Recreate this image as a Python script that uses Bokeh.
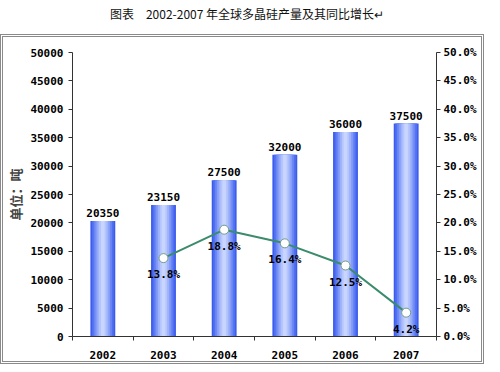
from bokeh.plotting import figure
from bokeh.models import (Range1d, LinearAxis, FixedTicker, ColumnDataSource, LabelSet,
                          Div, PrintfTickFormatter)
from bokeh.layouts import column
from bokeh.embed import file_html
from bokeh.resources import INLINE
from bokeh.core.properties import value

# ---- data ----
years = ["2002", "2003", "2004", "2005", "2006", "2007"]
output = [20350, 23150, 27500, 32000, 36000, 37500]
growth = [None, 13.8, 18.8, 16.4, 12.5, 4.2]
left_ticks = [0, 5000, 10000, 15000, 20000, 25000, 30000, 35000, 40000, 45000, 50000]
right_ticks = [0, 5, 10, 15, 20, 25, 30, 35, 40, 45, 50]
title_text = "图表　2002-2007 年全球多晶硅产量及其同比增长↵"
y_label = "单位：吨"

NUMFONT = "DejaVu Sans Mono"
CJK = "Noto Sans CJK SC"

xs = [i + 0.5 for i in range(len(years))]
bar_src = ColumnDataSource(dict(x=xs, top=output, lab=[str(v) for v in output]))
gx = [x for x, g in zip(xs, growth) if g is not None]
gy = [g for g in growth if g is not None]
g_src = ColumnDataSource(dict(x=gx, y=gy, lab=["%.1f%%" % g for g in gy]))

p = figure(width=478, height=324, output_backend="svg", toolbar_location=None,
           x_range=Range1d(0, len(years)), y_range=Range1d(0, 50000),
           min_border_left=63, min_border_right=45, min_border_top=15, min_border_bottom=21)
p.extra_y_ranges = {"pct": Range1d(0, 50)}
p.grid.visible = False
p.outline_line_color = None
p.background_fill_color = "white"

# gradient-looking bars (layered)
layers = [(0.41, "#3a5bee"), (0.36, "#5070f1"), (0.30, "#6a86f4"), (0.24, "#859df7"),
          (0.18, "#9fb3fa"), (0.12, "#b6c6fc"), (0.06, "#c8d5fe")]
for w, c in layers:
    p.vbar(x="x", top="top", width=w, bottom=0, source=bar_src, fill_color=c, line_color=None)

p.add_layout(LabelSet(x="x", y="top", text="lab", source=bar_src, y_offset=4,
                      text_align="center", text_baseline="bottom",
                      text_font=value(NUMFONT), text_font_style="bold",
                      text_font_size="11px", text_color="black"))

# growth line
p.line("x", "y", source=g_src, y_range_name="pct", line_color="#3a8c6c", line_width=2)
p.scatter("x", "y", source=g_src, y_range_name="pct", size=9, fill_color="white",
          line_color="#6f9a8a", line_width=1)
p.add_layout(LabelSet(x="x", y="y", text="lab", source=g_src, y_range_name="pct",
                      y_offset=-10, text_align="center", text_baseline="top",
                      text_font=value(NUMFONT), text_font_style="bold",
                      text_font_size="11px", text_color="black"))

# axes
xa = p.xaxis[0]
xa.ticker = FixedTicker(ticks=xs, minor_ticks=list(range(len(years) + 1)))
xa.major_label_overrides = {x: y for x, y in zip(xs, years)}
xa.major_tick_out = 0
xa.major_tick_in = 0
xa.minor_tick_out = 4
xa.minor_tick_in = 0
xa.major_label_standoff = 10
xa.axis_line_color = "#333333"
xa.minor_tick_line_color = "#333333"
xa.major_label_text_font = NUMFONT
xa.major_label_text_font_style = "bold"
xa.major_label_text_font_size = "11px"
xa.major_label_text_color = "black"

ya = p.yaxis[0]
ya.ticker = FixedTicker(ticks=left_ticks)
ya.minor_tick_line_color = None
ya.axis_label = y_label
ya.axis_label_text_font = CJK
ya.axis_label_text_font_style = "bold"
ya.axis_label_text_font_size = "13px"
ya.axis_label_standoff = 2

ra = LinearAxis(y_range_name="pct", ticker=FixedTicker(ticks=right_ticks),
                formatter=PrintfTickFormatter(format="%.1f%%"),
                axis_label=None, axis_label_standoff=0)
ra.minor_tick_line_color = None
p.add_layout(ra, "right")

for ax in [ya, ra]:
    ax.axis_line_color = "#333333"
    ax.major_tick_line_color = "#333333"
    ax.major_tick_out = 4
    ax.major_tick_in = 0
    ax.major_label_text_font = NUMFONT
    ax.major_label_text_font_style = "bold"
    ax.major_label_text_font_size = "11px"
    ax.major_label_text_color = "black"
ya.major_label_standoff = 5
ra.major_label_standoff = 3

title = Div(text='<div style="margin-top:-2px">' + title_text + '</div>', width=484, height=24,
            styles={"font-family": CJK, "font-size": "12px", "text-align": "center",
                    "width": "484px", "height": "24px", "color": "#111"})

boxed = column(p, styles={"border": "3px double #8a8a8a"})
layout = column(title, boxed, spacing=0)
open("out.html", "w").write(file_html(layout, INLINE))
